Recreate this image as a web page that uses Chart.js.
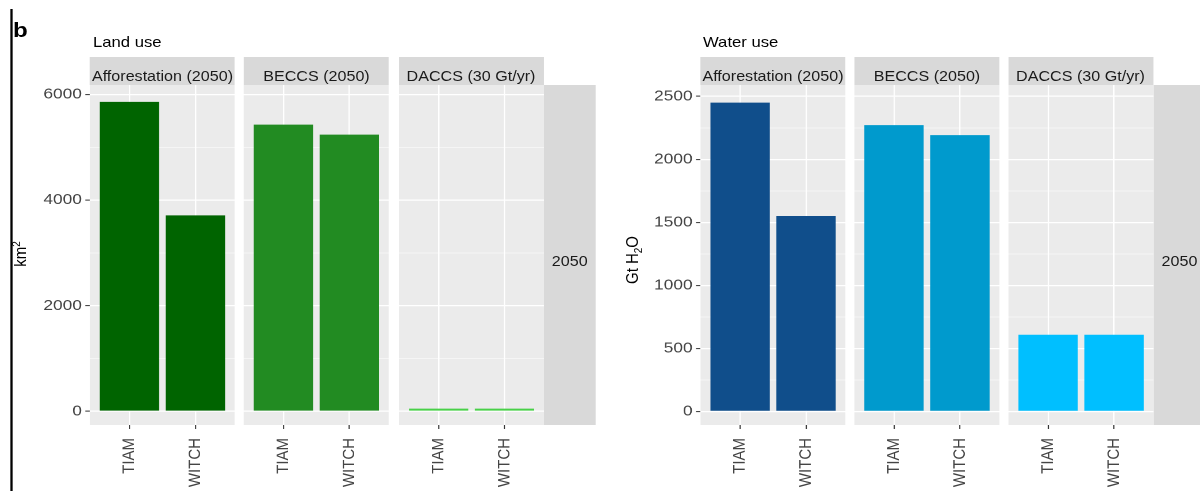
<!DOCTYPE html>
<html><head><meta charset="utf-8">
<script src="https://cdn.jsdelivr.net/npm/chart.js@4.4.1/dist/chart.umd.min.js"></script>
<style>
html,body{margin:0;padding:0;background:#fff;overflow:hidden;width:1200px;height:491px;}
#wrap{position:absolute;left:0;top:0;width:1044px;height:491px;transform:scaleX(1.15);transform-origin:0 0;font-family:"Liberation Sans",Arial,Helvetica,sans-serif;}
.abs{position:absolute;white-space:nowrap;}
</style></head><body><div id="wrap"></div>
<script>
// ---------------- data ----------------
const categories = ['TIAM', 'WITCH'];
const facetLabels = ['Afforestation (2050)', 'BECCS (2050)', 'DACCS (30 Gt/yr)'];
const rowLabel = '2050';
const landAfforestation = [5860, 3710];
const landBECCS = [5430, 5240];
const landDACCS = [50, 50];
const waterAfforestation = [2450, 1550];
const waterBECCS = [2272, 2192];
const waterDACCS = [608, 608];
const landTicks = [0, 2000, 4000, 6000];
const landMinorTicks = [1000, 3000, 5000];
const waterTicks = [0, 500, 1000, 1500, 2000, 2500];
const waterMinorTicks = [250, 750, 1250, 1750, 2250];
const landColors = ['#006400', '#228B22', '#48D048'];
const waterColors = ['#104E8B', '#009ACD', '#00BFFF'];

// ---------------- layout (original pixel coords) ----------------
const S = 1.15;
const FONT = '"Liberation Sans", Arial, Helvetica, sans-serif';
const FW = 145, TOP = 85, BOTTOM = 425, STRIP_TOP = 57, AXIS_W = 60, PAD_TOP = 20, H = 491;
const wrap = document.getElementById('wrap');
Chart.defaults.font.family = FONT;

function addText(html, x, baseline, size, opts = {}) {
  const d = document.createElement('div');
  d.className = 'abs';
  d.innerHTML = html;
  d.style.fontSize = size + 'px';
  d.style.lineHeight = size + 'px';
  d.style.color = opts.color || '#000';
  if (opts.bold) d.style.fontWeight = 'bold';
  d.style.top = (baseline - 0.8465 * size) + 'px';
  d.style.left = (x / S) + 'px';
  if (opts.center) d.style.transform = 'translateX(-50%)';
  wrap.appendChild(d);
  return d;
}
function addRect(x0, y0, x1, y1, color) {
  const d = document.createElement('div');
  d.className = 'abs';
  d.style.left = (x0 / S) + 'px';
  d.style.top = y0 + 'px';
  d.style.width = ((x1 - x0) / S) + 'px';
  d.style.height = (y1 - y0) + 'px';
  d.style.background = color;
  wrap.appendChild(d);
}
function addRotated(html, cx, cy, size) {
  const d = document.createElement('div');
  d.className = 'abs';
  d.innerHTML = html;
  d.style.fontSize = size + 'px';
  d.style.lineHeight = '1';
  d.style.color = '#000';
  d.style.left = (cx / S) + 'px';
  d.style.top = cy + 'px';
  d.style.transform = 'translate(-50%,-50%) rotate(-90deg)';
  wrap.appendChild(d);
}

const bgPlugin = {
  id: 'panelBg',
  beforeDraw(chart) {
    const { ctx, chartArea: a } = chart;
    ctx.save();
    ctx.fillStyle = '#ebebeb';
    ctx.fillRect(a.left, a.top, a.right - a.left, a.bottom - a.top);
    ctx.restore();
  }
};

const panels = [
  { title: 'Land use', titleX: 93, yTitle: 'km<sup style="font-size:10px">2</sup>', yTitleX: 19, yTitleY: 254,
    facetLefts: [90, 244, 398.5], stripX: [543.5, 596],
    values: [landAfforestation, landBECCS, landDACCS], colors: landColors,
    ticks: landTicks, minor: landMinorTicks, range: [-260, 6180] },
  { title: 'Water use', titleX: 703, yTitle: 'Gt H<sub style="font-size:10px">2</sub>O', yTitleX: 634, yTitleY: 260,
    facetLefts: [700.5, 854.5, 1008], stripX: [1153, 1210],
    values: [waterAfforestation, waterBECCS, waterDACCS], colors: waterColors,
    ticks: waterTicks, minor: waterMinorTicks, range: [-108, 2590] }
];

// panel divider line and tag
addRect(10.5, 9, 12.2, H, '#000');
addText('b', 13, 37, 21, { bold: true });

panels.forEach(p => {
  addText(p.title, p.titleX, 47.5, 14.5);
  addRotated(p.yTitle, p.yTitleX, p.yTitleY, 15);
  // right strip
  addRect(p.stripX[0], TOP, p.stripX[1], BOTTOM, '#d9d9d9');
  addText(rowLabel, (p.stripX[0] + Math.min(p.stripX[1], 1206)) / 2, 265.5, 14, { center: true, color: '#1a1a1a' });

  p.facetLefts.forEach((fl, fi) => {
    const first = fi === 0;
    // strip on top
    addRect(fl, STRIP_TOP, fl + FW, TOP, '#d9d9d9');
    addText(facetLabels[fi], fl + FW / 2, 81, 14, { center: true, color: '#1a1a1a' });

    const extra = first ? AXIS_W : 0;
    const box = document.createElement('div');
    box.className = 'abs';
    box.style.left = ((fl - extra) / S) + 'px';
    box.style.top = (TOP - PAD_TOP) + 'px';
    box.style.width = ((FW + extra) / S) + 'px';
    box.style.height = (H - TOP + PAD_TOP) + 'px';
    const cv = document.createElement('canvas');
    box.appendChild(cv);
    wrap.appendChild(box);

    const major = p.ticks;
    const allTicks = [...p.ticks, ...p.minor].sort((a, b) => a - b);
    new Chart(cv, {
      type: 'bar',
      data: {
        labels: categories,
        datasets: [{
          data: p.values[fi].map((v, i) => ({ x: i + 1, y: v })),
          backgroundColor: p.colors[fi],
          borderWidth: 0,
          barPercentage: 0.9,
          categoryPercentage: 1
        }]
      },
      options: {
        responsive: true,
        maintainAspectRatio: false,
        animation: false,
        devicePixelRatio: 2,
        layout: { padding: { top: PAD_TOP, left: 0, right: 0, bottom: 0 } },
        plugins: { legend: { display: false }, tooltip: { enabled: false } },
        scales: {
          x: {
            type: 'linear',
            min: 0.4,
            max: categories.length + 0.6,
            offset: false,
            afterBuildTicks: s => { s.ticks = categories.map((c, i) => ({ value: i + 1 })); },
            afterFit: s => { s.height = H - BOTTOM; },
            ticks: {
              callback: v => categories[v - 1],
              minRotation: 90, maxRotation: 90, autoSkip: false,
              padding: 9, color: '#444444', font: { family: FONT, size: 15 }
            },
            grid: { offset: false, color: '#ffffff', lineWidth: 1.2, tickColor: '#333333', tickLength: 4, tickWidth: 1 },
            border: { display: false }
          },
          y: {
            type: 'linear',
            min: p.range[0],
            max: p.range[1],
            afterBuildTicks: s => { s.ticks = allTicks.map(v => ({ value: v })); },
            afterFit: s => { s.width = first ? AXIS_W / S : 0; },
            ticks: {
              display: first,
              callback: v => major.includes(v) ? String(v) : '',
              padding: 3, color: '#444444', font: { family: FONT, size: 15 }
            },
            grid: {
              offset: false,
              color: '#ffffff',
              lineWidth: c => major.includes(c.tick && c.tick.value) ? 1.2 : 0.6,
              tickColor: c => major.includes(c.tick && c.tick.value) ? '#333333' : 'rgba(0,0,0,0)',
              tickLength: 4, tickWidth: 1,
              drawTicks: first
            },
            border: { display: false }
          }
        }
      },
      plugins: [bgPlugin]
    });
  });
});
</script>
</body></html>
